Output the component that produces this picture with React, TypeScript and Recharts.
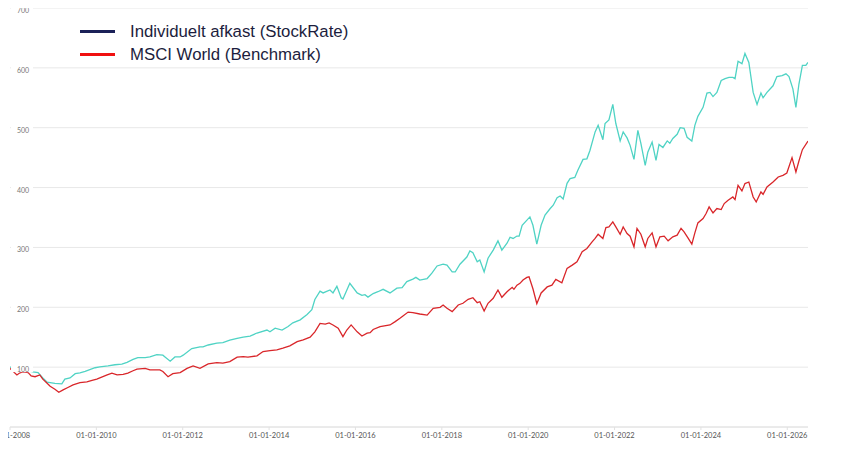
import React from "react";
import { CartesianGrid, Line, LineChart, XAxis, YAxis } from "recharts";

const yearTicks = [2008, 2010, 2012, 2014, 2016, 2018, 2020, 2022, 2024, 2026];
const valueTicks = [0, 100, 200, 300, 400, 500, 600, 700];

// decimal years
const stockDates = [
  2008.0, 2008.28, 2008.53, 2008.65, 2008.76, 2008.86, 2009.04, 2009.2, 2009.27, 2009.39, 2009.51, 2009.62,
  2009.74, 2009.97, 2010.08, 2010.27, 2010.43, 2010.59, 2010.71, 2010.85, 2010.96, 2011.13, 2011.24, 2011.4,
  2011.54, 2011.59, 2011.71, 2011.82, 2011.94, 2012.01, 2012.21, 2012.4, 2012.47, 2012.59, 2012.79, 2012.93,
  2013.09, 2013.26, 2013.4, 2013.56, 2013.72, 2013.95, 2014.02, 2014.14, 2014.3, 2014.44, 2014.55, 2014.72,
  2014.88, 2014.99, 2015.06, 2015.18, 2015.25, 2015.41, 2015.48, 2015.57, 2015.67, 2015.71, 2015.87, 2016.04,
  2016.15, 2016.22, 2016.29, 2016.41, 2016.52, 2016.64, 2016.8, 2016.96, 2017.08, 2017.19, 2017.33, 2017.4,
  2017.49, 2017.66, 2017.77, 2017.89, 2018.03, 2018.12, 2018.24, 2018.31, 2018.42, 2018.58, 2018.65, 2018.72,
  2018.82, 2018.88, 2018.98, 2019.07, 2019.19, 2019.3, 2019.39, 2019.51, 2019.58, 2019.65, 2019.74, 2019.79,
  2019.86, 2019.95, 2020.04, 2020.11, 2020.2, 2020.3, 2020.39, 2020.51, 2020.58, 2020.67, 2020.74, 2020.81,
  2020.9, 2020.97, 2021.08, 2021.15, 2021.27, 2021.36, 2021.43, 2021.55, 2021.62, 2021.73, 2021.78, 2021.87,
  2021.96, 2022.03, 2022.13, 2022.2, 2022.29, 2022.36, 2022.45, 2022.54, 2022.61, 2022.71, 2022.77, 2022.87,
  2022.96, 2023.03, 2023.12, 2023.22, 2023.28, 2023.35, 2023.45, 2023.52, 2023.61, 2023.68, 2023.79, 2023.86,
  2023.93, 2024.05, 2024.14, 2024.21, 2024.28, 2024.37, 2024.47, 2024.56, 2024.65, 2024.74, 2024.79, 2024.86,
  2024.95, 2025.02, 2025.11, 2025.21, 2025.3, 2025.39, 2025.44, 2025.53, 2025.67, 2025.76, 2025.88, 2025.97,
  2026.04, 2026.13, 2026.2, 2026.27, 2026.35, 2026.43, 2026.48,
];
const stockValues = [
  100, 96, 92, 91, 82, 75, 73, 72, 80, 82, 89, 90.5,
  93, 99, 100.5, 102, 104, 105, 108, 113, 116, 116, 117, 121,
  120, 117, 110, 117, 117, 120, 131, 134, 134, 137, 140, 141,
  145, 148, 150, 152, 157, 162, 159, 165, 162, 168, 174, 179,
  188, 196, 213, 227, 224, 229, 224, 235, 216, 214, 240, 224,
  220, 221, 217, 223, 226, 230, 224, 232, 233, 243, 247, 250,
  245.5, 248, 257, 269, 272, 270.5, 259, 259, 272, 284, 294, 291,
  276, 279, 259, 282, 295.5, 311, 295.5, 307, 317, 315, 319, 319,
  337, 344, 351, 337, 305.5, 337, 354, 365, 370.5, 383, 386, 381,
  407, 415, 417, 429, 447, 448, 462, 493, 504, 480, 507, 513,
  539, 507, 478, 493, 483, 470.5, 447, 495.5, 474, 437, 459, 476,
  445.5, 472, 467, 478, 474, 482, 489, 500, 499, 484, 477.7, 504,
  519, 534, 558, 559, 552, 559, 579, 582, 584, 584, 582, 611,
  607, 624, 609, 559, 539, 558, 550, 559, 570, 585.5, 587, 590,
  585.5, 565, 534, 573, 604, 604, 609,
];

const msciDates = [
  2008.0, 2008.07, 2008.16, 2008.23, 2008.3, 2008.42, 2008.49, 2008.58, 2008.69, 2008.76, 2008.86, 2008.93,
  2009.04, 2009.13, 2009.23, 2009.34, 2009.46, 2009.62, 2009.78, 2009.9, 2010.01, 2010.08, 2010.25, 2010.36,
  2010.48, 2010.62, 2010.73, 2010.85, 2010.94, 2011.13, 2011.24, 2011.47, 2011.54, 2011.66, 2011.77, 2011.94,
  2012.1, 2012.24, 2012.4, 2012.59, 2012.79, 2012.93, 2013.09, 2013.26, 2013.4, 2013.51, 2013.72, 2013.86,
  2014.02, 2014.18, 2014.32, 2014.48, 2014.65, 2014.79, 2014.95, 2015.06, 2015.18, 2015.3, 2015.39, 2015.48,
  2015.6, 2015.71, 2015.8, 2015.9, 2016.04, 2016.15, 2016.27, 2016.34, 2016.41, 2016.57, 2016.8, 2016.92,
  2017.03, 2017.1, 2017.22, 2017.33, 2017.49, 2017.66, 2017.8, 2017.96, 2018.03, 2018.12, 2018.24, 2018.38,
  2018.49, 2018.61, 2018.72, 2018.82, 2018.88, 2018.98, 2019.07, 2019.19, 2019.3, 2019.39, 2019.51, 2019.63,
  2019.67, 2019.74, 2019.81, 2019.88, 2019.97, 2020.02, 2020.11, 2020.2, 2020.3, 2020.44, 2020.55, 2020.64,
  2020.78, 2020.9, 2021.02, 2021.13, 2021.25, 2021.36, 2021.48, 2021.55, 2021.62, 2021.73, 2021.8, 2021.87,
  2021.96, 2022.03, 2022.13, 2022.2, 2022.29, 2022.36, 2022.45, 2022.52, 2022.61, 2022.71, 2022.77, 2022.87,
  2022.96, 2023.05, 2023.15, 2023.24, 2023.35, 2023.45, 2023.54, 2023.61, 2023.7, 2023.79, 2023.86, 2023.93,
  2024.05, 2024.12, 2024.19, 2024.28, 2024.37, 2024.47, 2024.54, 2024.63, 2024.74, 2024.79, 2024.86, 2024.95,
  2025.02, 2025.11, 2025.21, 2025.28, 2025.39, 2025.44, 2025.53, 2025.67, 2025.79, 2025.9, 2025.99, 2026.11,
  2026.2, 2026.27, 2026.35, 2026.48,
];
const msciValues = [
  98, 93, 87, 90.5, 92, 91, 85.5, 84, 87, 80, 73, 68,
  63, 58, 62, 66, 70.5, 74, 75.5, 78, 80, 82, 87, 90,
  87, 88, 90, 94, 96.7, 98, 95.5, 95.5, 92.7, 84, 89, 91,
  98, 102, 98, 105.5, 107.7, 106.7, 109.3, 116.7, 117.7, 116.7, 118.8, 126,
  127.7, 128.8, 131.7, 135.5, 142.7, 145.5, 150, 159, 173, 172, 174, 170.5,
  165, 151, 162, 170.5, 159, 152, 156.7, 157.7, 163, 167.7, 170.5, 176,
  181.7, 185.5, 192, 191, 188.8, 187, 198.3, 200, 203.8, 198.3, 192.7, 203.8,
  206.7, 213.3, 216, 207.7, 209.3, 193.8, 206.7, 215, 228.8, 216.7, 226, 233.3,
  230, 237, 240, 245.5, 250, 251, 231, 206, 224, 234, 237, 246.7,
  241, 265, 270.5, 276, 292.7, 298.3, 309.3, 315, 322, 315, 333.3, 334.3,
  342.7, 334.3, 322, 334.3, 323.3, 318.8, 301, 331.7, 322, 301, 315, 324.3,
  301, 317.7, 318.8, 311, 317.7, 320.5, 332, 326, 316, 305.5, 324.3, 341,
  348.3, 356.7, 367.7, 357.7, 365, 363.3, 373.3, 378.8, 384.3, 380, 403.8, 394.3,
  406.7, 409.3, 384.3, 376, 392.7, 388.8, 401, 409.3, 417.7, 420.5, 424.3, 450,
  426, 444.3, 463.3, 477.7,
];

const stockData = stockDates.map((t, i) => ({ t, v: stockValues[i] }));
const msciData = msciDates.map((t, i) => ({ t, v: msciValues[i] }));

const TICK_FONT = "Lato, 'DejaVu Sans', sans-serif";

// value labels sit inside the plot on a white patch that hides grid and lines
const renderValueTick = (props: any) => {
  const { y, payload } = props;
  if (payload.value === 0) return <g />;
  return (
    <g>
      <rect x={3} y={y - 5} width={22} height={10} fill="#fff" />
      <text x={9} y={y + 5} fontSize={7} fill="#777" fontFamily={TICK_FONT}>
        {payload.value}
      </text>
    </g>
  );
};

function LegendRow({ color, thick, label }: { color: string; thick: number; label: string }) {
  return (
    <div style={{ display: "flex", alignItems: "center", height: 23 }}>
      <div style={{ width: 35, height: thick, background: color, marginRight: 15 }} />
      <span>{label}</span>
    </div>
  );
}

export default function App() {
  return (
    <div style={{ position: "relative", width: 847, height: 443 }}>
      <style>{`.recharts-surface{overflow:visible}`}</style>
      <LineChart width={847} height={443} margin={{ top: 0, right: 47, bottom: 4, left: 2 }}>
        <CartesianGrid vertical={false} stroke="#e8e8e8" />
        <XAxis
          type="number"
          dataKey="t"
          domain={[2008, 2026.48]}
          ticks={yearTicks}
          interval={0}
          tickFormatter={(y) => `01-01-${y}`}
          allowDataOverflow
          height={20}
          stroke="#e2e2e2"
          tickSize={3}
          tickMargin={3}
          tick={{ fontSize: 7.5, fill: "#555", fontFamily: TICK_FONT }}
        />
        <Line
          data={stockData}
          dataKey="v"
          type="linear"
          stroke="#4fd3c4"
          strokeWidth={1.3}
          dot={false}
          isAnimationActive={false}
        />
        <Line
          data={msciData}
          dataKey="v"
          type="linear"
          stroke="#d9262a"
          strokeWidth={1.3}
          dot={false}
          isAnimationActive={false}
        />
        <YAxis
          domain={[0, 700]}
          ticks={valueTicks}
          interval={0}
          mirror
          width={30}
          axisLine={false}
          tickLine={false}
          tick={renderValueTick}
        />
      </LineChart>
      <div
        style={{
          position: "absolute",
          left: 72,
          top: 12,
          fontFamily: "'Liberation Sans', Arial, sans-serif",
          fontSize: 16.8,
          color: "#1c1d3d",
        }}
      >
        <LegendRow color="#1b2158" thick={3} label="Individuelt afkast (StockRate)" />
        <LegendRow color="#f01010" thick={3} label="MSCI World (Benchmark)" />
      </div>
    </div>
  );
}
